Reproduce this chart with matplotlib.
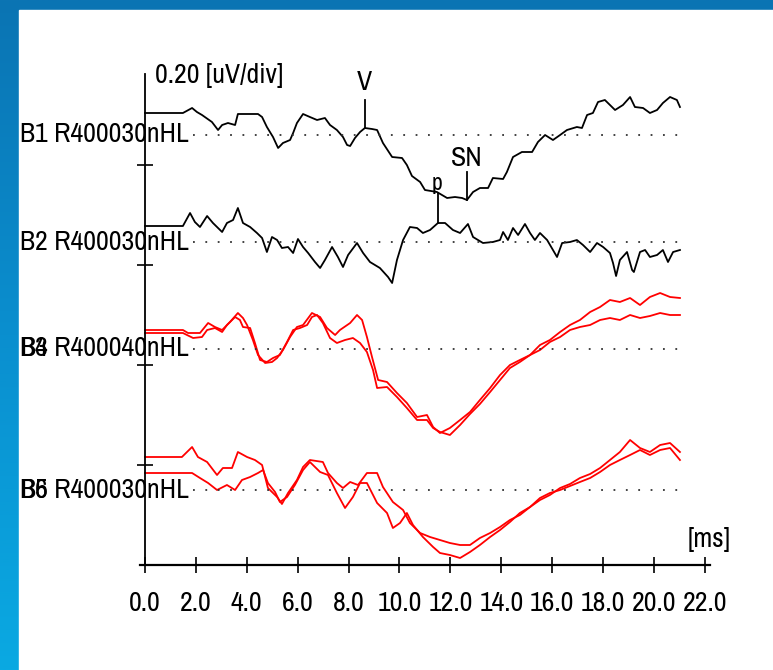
import numpy as np
import matplotlib
matplotlib.use('Agg')
import matplotlib.pyplot as plt
from matplotlib import font_manager as fm
from matplotlib.colors import LinearSegmentedColormap

# pick a narrow sans font if one is installed (reference uses an Arial Narrow look)
def find_narrow():
    best = None
    for f in fm.fontManager.ttflist:
        name = f.name.lower()
        fn = f.fname.lower()
        if f.style != 'normal' or f.weight not in (400, 'normal', 'regular'):
            continue
        if 'bold' in fn or 'italic' in fn or 'oblique' in fn or 'mono' in name or 'serif' in name and 'sans' not in name:
            continue
        score = None
        if 'narrow' in name or 'narrow' in fn:
            score = 0
        elif 'condensed' in name or 'condensed' in fn or f.stretch == 'condensed':
            score = 1
        elif 'semicondensed' in fn or f.stretch == 'semi-condensed':
            score = 2
        if score is not None and (best is None or score < best[0]):
            best = (score, f.fname)
    return best

narrow = find_narrow()
FS = 20 if narrow else 16

def fp(size=FS):
    if narrow:
        return fm.FontProperties(fname=narrow[1], size=size)
    return fm.FontProperties(family='Liberation Sans', size=size)

plt.rcParams.update({'font.family': ['Liberation Sans', 'DejaVu Sans']})

# ── data: latency (ms) and amplitude (uV, relative to each channel baseline) ──
b1_t = [0, 1.49, 1.85, 2.04, 2.24, 2.63, 2.87, 3.03, 3.26, 3.54, 3.65, 4.13, 4.44, 4.60, 4.79,
        5.03, 5.23, 5.42, 5.70, 5.82, 5.97, 6.21, 6.48, 6.76, 7.07, 7.27, 7.54, 7.78, 7.94, 8.06,
        8.25, 8.45, 8.64, 8.92, 9.12, 9.35, 9.71, 10.10, 10.29, 10.49, 10.81, 11.00, 11.47, 11.67,
        11.87, 12.18, 12.46, 12.65, 12.89, 13.16, 13.48, 13.67, 14.07, 14.22, 14.46, 14.81, 15.21,
        15.44, 15.72, 16.03, 16.31, 16.58, 16.97, 17.17, 17.37, 17.60, 17.80, 18.07, 18.47, 18.78,
        19.06, 19.25, 19.57, 19.84, 20.12, 20.35, 20.63, 20.90, 21.02]
b1_v = [0.044, 0.044, 0.054, 0.046, 0.040, 0.026, 0.010, 0.020, 0.024, 0.020, 0.042, 0.042, 0.042,
        0.036, 0.016, -0.004, -0.026, -0.016, -0.010, 0.004, 0.024, 0.042, 0.036, 0.030, 0.034,
        0.020, 0.010, -0.004, -0.020, -0.022, -0.006, 0.006, 0.014, 0.012, 0.010, -0.016, -0.044,
        -0.046, -0.060, -0.082, -0.094, -0.110, -0.114, -0.120, -0.126, -0.124, -0.126, -0.130,
        -0.114, -0.106, -0.106, -0.086, -0.088, -0.074, -0.044, -0.034, -0.034, -0.014, 0.000,
        -0.010, 0.000, 0.010, 0.016, 0.014, 0.040, 0.044, 0.066, 0.070, 0.050, 0.060, 0.076,
        0.056, 0.054, 0.044, 0.050, 0.064, 0.076, 0.070, 0.056]

b2_t = [0, 1.49, 1.77, 1.96, 2.16, 2.44, 2.67, 3.03, 3.22, 3.46, 3.65, 3.85, 4.13, 4.40, 4.60,
        4.79, 4.99, 5.19, 5.38, 5.62, 5.82, 6.01, 6.21, 6.41, 6.68, 6.88, 7.07, 7.35, 7.58, 7.78,
        7.98, 8.33, 8.57, 8.84, 9.23, 9.55, 9.71, 9.90, 10.14, 10.41, 10.69, 10.92, 11.20, 11.51,
        11.79, 12.10, 12.38, 12.69, 12.89, 13.28, 13.67, 13.95, 14.07, 14.26, 14.46, 14.66, 14.93,
        15.13, 15.32, 15.52, 15.80, 16.03, 16.19, 16.39, 16.70, 16.97, 17.21, 17.49, 17.76, 18.00,
        18.27, 18.39, 18.51, 18.66, 18.94, 19.14, 19.21, 19.45, 19.65, 19.84, 20.12, 20.35, 20.55,
        20.75, 21.02]
b2_v = [0.032, 0.032, 0.058, 0.040, 0.030, 0.052, 0.038, 0.020, 0.038, 0.044, 0.068, 0.038, 0.030,
        0.018, 0.008, -0.020, 0.010, 0.004, -0.012, -0.010, -0.022, 0.006, -0.010, -0.022, -0.040,
        -0.052, -0.036, -0.010, -0.030, -0.050, -0.026, -0.002, -0.022, -0.040, -0.052, -0.070,
        -0.082, -0.036, 0.004, 0.030, 0.028, 0.018, 0.024, 0.038, 0.038, 0.024, 0.018, 0.036,
        0.010, -0.002, 0.000, 0.004, 0.020, 0.004, 0.028, 0.014, 0.036, 0.018, 0.004, 0.018, 0.004,
        -0.016, -0.030, -0.002, 0.000, 0.004, -0.006, -0.020, -0.002, -0.010, -0.022, -0.042,
        -0.068, -0.036, -0.020, -0.056, -0.060, -0.020, -0.016, -0.030, -0.026, -0.016, -0.040,
        -0.020, -0.016]

b3_t = [0, 1.49, 1.69, 2.16, 2.48, 2.75, 3.03, 3.34, 3.65, 3.85, 4.01, 4.24, 4.44, 4.72, 4.99,
        5.19, 5.42, 5.70, 5.97, 6.21, 6.56, 6.88, 7.15, 7.47, 7.66, 8.06, 8.33, 8.53, 8.72, 8.92,
        9.16, 9.51, 9.90, 10.29, 10.69, 11.08, 11.32, 11.59, 11.98, 12.38, 12.77, 13.16, 13.56,
        13.95, 14.34, 14.73, 15.13, 15.52, 15.91, 16.31, 16.70, 17.09, 17.49, 17.88, 18.27, 18.66,
        19.06, 19.45, 19.84, 20.24, 20.63, 21.02]
b3_v = [0.038, 0.038, 0.032, 0.032, 0.052, 0.044, 0.038, 0.054, 0.072, 0.062, 0.048, 0.018,
        -0.012, -0.028, -0.026, -0.018, -0.002, 0.024, 0.044, 0.048, 0.072, 0.064, 0.042, 0.028,
        0.038, 0.052, 0.068, 0.058, 0.024, -0.016, -0.062, -0.066, -0.088, -0.108, -0.136, -0.132,
        -0.156, -0.168, -0.158, -0.142, -0.126, -0.102, -0.078, -0.052, -0.032, -0.022, -0.012,
        0.008, 0.018, 0.034, 0.048, 0.058, 0.074, 0.084, 0.098, 0.094, 0.102, 0.088, 0.104, 0.112,
        0.104, 0.102]

b4_t = [0, 1.49, 1.65, 1.89, 2.24, 2.44, 2.75, 3.03, 3.22, 3.54, 3.73, 3.85, 4.13, 4.32, 4.52,
        4.79, 5.03, 5.30, 5.58, 5.82, 6.09, 6.37, 6.56, 6.76, 6.99, 7.27, 7.54, 7.86, 8.17, 8.45,
        8.72, 8.96, 9.12, 9.51, 9.90, 10.29, 10.69, 11.08, 11.32, 11.59, 11.98, 12.38, 12.77,
        13.16, 13.56, 13.95, 14.34, 14.73, 15.13, 15.52, 15.91, 16.31, 16.70, 17.09, 17.49, 17.88,
        18.27, 18.66, 19.06, 19.45, 19.84, 20.24, 20.63, 21.02]
b4_v = [0.032, 0.032, 0.028, 0.022, 0.024, 0.038, 0.042, 0.034, 0.048, 0.064, 0.058, 0.044,
        0.042, 0.012, -0.022, -0.026, -0.018, -0.012, 0.014, 0.038, 0.042, 0.048, 0.064, 0.068,
        0.052, 0.022, 0.012, 0.018, 0.022, 0.012, -0.006, -0.042, -0.078, -0.076, -0.096, -0.118,
        -0.142, -0.142, -0.158, -0.166, -0.172, -0.152, -0.130, -0.110, -0.086, -0.062, -0.038,
        -0.026, -0.012, -0.002, 0.014, 0.024, 0.038, 0.044, 0.048, 0.058, 0.062, 0.058, 0.068,
        0.062, 0.066, 0.072, 0.068, 0.068]

b5_t = [0, 1.45, 1.85, 2.08, 2.44, 2.83, 3.06, 3.42, 3.65, 4.01, 4.32, 4.60, 4.83, 5.19, 5.38,
        5.62, 5.97, 6.21, 6.48, 6.99, 7.19, 7.54, 7.78, 8.06, 8.37, 8.72, 9.12, 9.35, 9.74, 10.14,
        10.41, 10.81, 11.20, 11.59, 11.98, 12.38, 12.77, 13.16, 13.56, 13.95, 14.34, 14.73, 15.13,
        15.52, 15.91, 16.31, 16.70, 17.09, 17.49, 17.88, 18.27, 18.66, 19.06, 19.45, 19.84, 20.24,
        20.63, 21.02]
b5_v = [0.066, 0.066, 0.086, 0.066, 0.056, 0.030, 0.044, 0.044, 0.076, 0.066, 0.060, 0.050,
        0.004, -0.014, -0.028, -0.006, 0.020, 0.046, 0.060, 0.056, 0.034, 0.014, 0.004, 0.016,
        0.010, 0.034, 0.034, 0.006, -0.024, -0.040, -0.066, -0.086, -0.094, -0.100, -0.106, -0.110,
        -0.110, -0.096, -0.086, -0.074, -0.060, -0.050, -0.034, -0.020, -0.010, 0.004, 0.012,
        0.024, 0.032, 0.044, 0.060, 0.076, 0.100, 0.084, 0.076, 0.090, 0.094, 0.076]

b6_t = [0, 1.45, 1.85, 2.16, 2.48, 2.83, 3.22, 3.54, 3.81, 4.13, 4.44, 4.64, 4.83, 5.11, 5.30,
        5.58, 5.89, 6.21, 6.48, 6.88, 7.19, 7.54, 7.86, 8.17, 8.45, 8.72, 9.12, 9.51, 9.74, 10.02,
        10.29, 10.53, 10.92, 11.32, 11.59, 11.98, 12.38, 12.77, 13.16, 13.56, 13.95, 14.34, 14.73,
        15.13, 15.52, 15.91, 16.31, 16.70, 17.09, 17.49, 17.88, 18.27, 18.66, 19.06, 19.45, 19.84,
        20.24, 20.63, 21.02]
b6_v = [0.034, 0.034, 0.034, 0.024, 0.014, 0.000, 0.010, 0.000, 0.020, 0.026, 0.034, 0.040,
        0.014, -0.004, -0.024, -0.014, 0.010, 0.040, 0.056, 0.036, 0.030, -0.006, -0.036, -0.014,
        0.014, 0.014, -0.026, -0.046, -0.076, -0.066, -0.046, -0.070, -0.094, -0.114, -0.126,
        -0.130, -0.136, -0.124, -0.110, -0.094, -0.080, -0.064, -0.046, -0.034, -0.016, -0.006,
        0.000, 0.008, 0.016, 0.024, 0.036, 0.050, 0.060, 0.070, 0.080, 0.070, 0.080, 0.084, 0.060]

channel_labels = ['B1 R400030nHL', 'B2 R400030nHL', 'B3 R400040nHL', 'B6 R400030nHL']
overprint = ['', '', 'B4', 'B5']

# peak markers
peak_names = ['V', 'p', 'SN']
peak_lat = [8.64, 11.51, 12.65]

# ── layout (uV offsets of each channel on a 0.20 uV/div scale) ──
offsets = [0.86, 0.646, 0.432, 0.15]
W, H = 773, 670

fig = plt.figure(figsize=(W / 100, H / 100), dpi=100)

# blue frame with gradient, white sheet on top
bg = fig.add_axes([0, 0, 1, 1], zorder=-10)
cmap = LinearSegmentedColormap.from_list('frame', ['#0b74b3', '#0a8fcf', '#0aa9e2'])
bg.imshow(np.linspace(0, 1, 256).reshape(-1, 1), aspect='auto', cmap=cmap,
          extent=[0, 1, 0, 1], origin='upper')
bg.add_patch(plt.Rectangle((19 / W, 0), 1, 1 - 10 / H, color='white'))
bg.set_xlim(0, 1)
bg.set_ylim(0, 1)
bg.axis('off')

px_ms = 25.45
ax = fig.add_axes([(145 - 0.2 * px_ms) / W, 105 / H, 22.4 * px_ms / W, 491 / H])
ax.set_xlim(-0.2, 22.2)
ax.set_ylim(0, 0.982)
ax.patch.set_alpha(0)
for s in ['top', 'right']:
    ax.spines[s].set_visible(False)
ax.spines['left'].set_position(('data', 0))
ax.spines['left'].set_linewidth(1.3)
ax.spines['bottom'].set_linewidth(1.6)

xt = np.arange(0, 23, 2)
ax.set_xticks(xt)
ax.set_xticklabels([f'{v:.1f}' for v in xt], fontproperties=fp())
ax.set_yticks([0.2, 0.4, 0.6, 0.8])
ax.set_yticklabels([])
ax.tick_params(axis='x', direction='inout', length=11, width=1.2, pad=13)
ax.tick_params(axis='y', direction='inout', length=11, width=1.2)

traces = [(b1_t, b1_v, 0, 'black'), (b2_t, b2_v, 1, 'black'),
          (b3_t, b3_v, 2, 'red'), (b4_t, b4_v, 2, 'red'),
          (b5_t, b5_v, 3, 'red'), (b6_t, b6_v, 3, 'red')]
for t, v, ch, col in traces:
    ax.plot(t, np.array(v) + offsets[ch], color=col, lw=1.3, clip_on=False)

# dotted baselines and channel labels
for i, off in enumerate(offsets):
    ax.plot([1.9, 21.0], [off, off], color='#333333', lw=1.3, dashes=(1, 5.85), clip_on=False)
    ax.text(-4.91, off, channel_labels[i], ha='left', va='center', fontproperties=fp(), clip_on=False)
    if overprint[i]:
        ax.text(-4.91, off, overprint[i], ha='left', va='center', fontproperties=fp(), clip_on=False)

# peak markers
ax.plot([peak_lat[0]] * 2, [0.93, 0.874], color='black', lw=1.3)
ax.text(peak_lat[0], 0.964, peak_names[0], ha='center', va='center', fontproperties=fp())
ax.plot([peak_lat[1]] * 2, [0.744, 0.684], color='black', lw=1.3)
ax.text(peak_lat[1] - 0.05, 0.762, peak_names[1], ha='center', va='center', fontproperties=fp(FS - 3))
ax.plot([peak_lat[2]] * 2, [0.786, 0.73], color='black', lw=1.3)
ax.text(peak_lat[2], 0.814, peak_names[2], ha='center', va='center', fontproperties=fp())

ax.text(0.39, 0.978, '0.20 [uV/div]', ha='left', va='center', fontproperties=fp(), clip_on=False)
ax.text(22.16, 0.05, '[ms]', ha='center', va='center', fontproperties=fp(), clip_on=False)

fig.savefig('out.png', dpi=100)
